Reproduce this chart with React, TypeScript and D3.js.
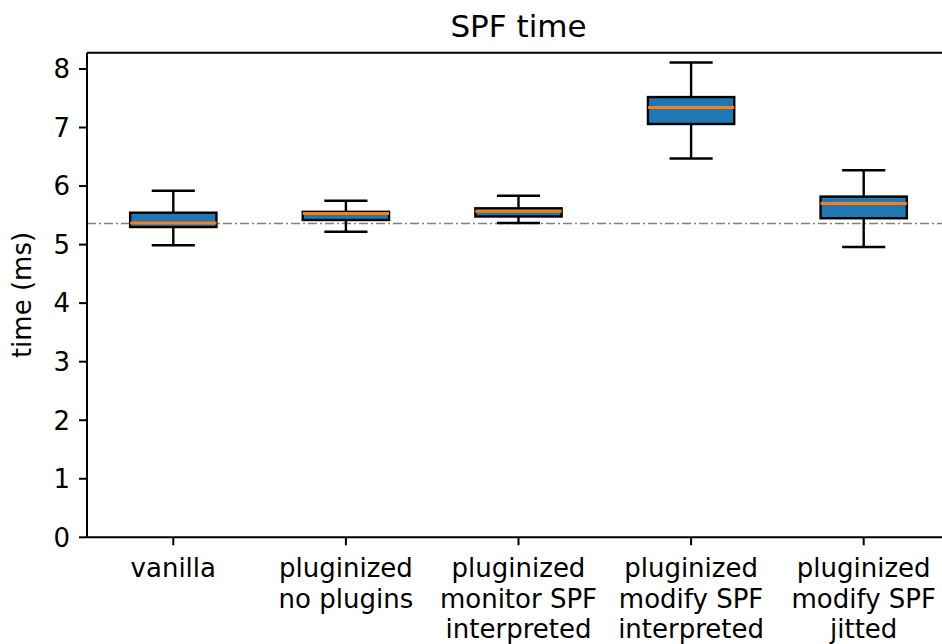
import React from 'react';
import * as d3 from 'd3';

// boxplot stats (ms)
const categories = [
  'vanilla',
  'pluginized\nno plugins',
  'pluginized\nmonitor SPF\ninterpreted',
  'pluginized\nmodify SPF\ninterpreted',
  'pluginized\nmodify SPF\njitted',
];
const whiskerLow = [4.99, 5.22, 5.37, 6.47, 4.96];
const q1 = [5.3, 5.42, 5.48, 7.06, 5.45];
const medians = [5.37, 5.53, 5.57, 7.34, 5.7];
const q3 = [5.545, 5.56, 5.62, 7.52, 5.82];
const whiskerHigh = [5.92, 5.75, 5.835, 8.11, 6.27];
const yTicks = [0, 1, 2, 3, 4, 5, 6, 7, 8];
const baseline = 5.36;

const W = 942;
const H = 644;
const left = 87;
const right = 950;
const top = 52.7;
const bottom = 537.3;
const font = 'DejaVu Sans, sans-serif';

export default function App() {
  const x = d3.scaleBand<string>().domain(categories).range([left, right]).padding(0);
  const y = d3.scaleLinear().domain([0, 8.278]).range([bottom, top]);
  const bw = x.bandwidth();
  const boxW = bw * 0.5;
  const capW = bw * 0.25;

  return (
    <svg
      width={W}
      height={H}
      style={{ position: 'absolute', left: 0, top: 0, background: '#fff' }}
      fontFamily={font}
    >
      <rect width={W} height={H} fill="#fff" />
      {/* reference line */}
      <line
        x1={left}
        x2={right}
        y1={y(baseline)}
        y2={y(baseline)}
        stroke="#808080"
        strokeWidth={1.3}
        strokeDasharray="9,3,2,3"
      />
      {categories.map((c, i) => {
        const cx = x(c)! + bw / 2;
        return (
          <g key={c}>
            <line x1={cx} x2={cx} y1={y(q3[i])} y2={y(whiskerHigh[i])} stroke="#000" strokeWidth={2.4} />
            <line x1={cx} x2={cx} y1={y(q1[i])} y2={y(whiskerLow[i])} stroke="#000" strokeWidth={2.4} />
            <line x1={cx - capW / 2} x2={cx + capW / 2} y1={y(whiskerHigh[i])} y2={y(whiskerHigh[i])} stroke="#000" strokeWidth={2.4} />
            <line x1={cx - capW / 2} x2={cx + capW / 2} y1={y(whiskerLow[i])} y2={y(whiskerLow[i])} stroke="#000" strokeWidth={2.4} />
            <rect
              x={cx - boxW / 2}
              y={y(q3[i])}
              width={boxW}
              height={y(q1[i]) - y(q3[i])}
              fill="#1f77b4"
              stroke="#000"
              strokeWidth={2.4}
            />
            <line x1={cx - boxW / 2} x2={cx + boxW / 2} y1={y(medians[i])} y2={y(medians[i])} stroke="#ff7f0e" strokeWidth={3} />
          </g>
        );
      })}
      {/* spines */}
      <line x1={left} x2={left} y1={top} y2={bottom} stroke="#000" strokeWidth={2} />
      <line x1={left} x2={W} y1={bottom} y2={bottom} stroke="#000" strokeWidth={2} />
      <line x1={left} x2={W} y1={top} y2={top} stroke="#000" strokeWidth={2} />
      {/* y axis */}
      {yTicks.map((t) => (
        <g key={t}>
          <line x1={left - 8} x2={left} y1={y(t)} y2={y(t)} stroke="#000" strokeWidth={2} />
          <text x={left - 17} y={y(t)} dy="0.36em" textAnchor="end" fontSize={26} fill="#000">
            {t}
          </text>
        </g>
      ))}
      <text
        transform={`translate(31,${(top + bottom) / 2}) rotate(-90)`}
        textAnchor="middle"
        fontSize={26}
        fill="#000"
      >
        time (ms)
      </text>
      {/* x axis */}
      {categories.map((c) => {
        const cx = x(c)! + bw / 2;
        return (
          <g key={c}>
            <line x1={cx} x2={cx} y1={bottom} y2={bottom + 8} stroke="#000" strokeWidth={2} />
            <text x={cx} y={577} textAnchor="middle" fontSize={26} fill="#000">
              {c.split('\n').map((s, j) => (
                <tspan key={j} x={cx} dy={j === 0 ? 0 : 30.5}>
                  {s}
                </tspan>
              ))}
            </text>
          </g>
        );
      })}
      <text x={(left + right) / 2} y={37} textAnchor="middle" fontSize={31} fill="#000">
        SPF time
      </text>
    </svg>
  );
}
